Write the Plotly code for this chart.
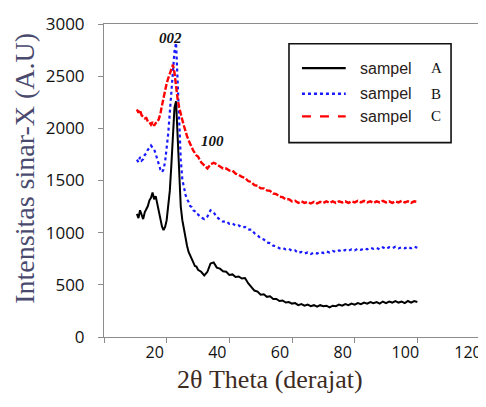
import plotly.graph_objects as go

# 2-theta positions (degrees)
theta = [10.5, 11, 11.5, 12, 12.5, 13, 13.5, 14, 14.5, 15, 15.5, 16, 16.5, 17, 17.5, 18, 18.5, 19, 19.5, 20,
         20.5, 21, 21.5, 22, 22.5, 23, 23.5, 24, 24.5, 25, 25.5, 26, 26.5, 27, 27.5, 28, 28.5, 29, 29.5, 30,
         31, 32, 33, 34, 35, 36, 37, 38, 39, 40, 41, 42, 43, 44, 45, 46, 47, 48, 49, 50,
         51, 52, 53, 54, 55, 56, 57, 58, 59, 60, 61, 62, 63, 64, 65, 66, 67, 68, 69, 70,
         71, 72, 73, 74, 75, 76, 77, 78, 79, 80, 81, 82, 83, 84, 85, 86, 87, 88, 89, 90,
         91, 92, 93, 94, 95, 96, 97, 98, 99, 100]

sampel_A = [1180, 1140, 1215, 1165, 1130, 1195, 1230, 1255, 1310, 1335, 1385, 1320, 1350, 1280, 1200, 1110, 1060, 1025, 1055, 1120,
            1250, 1400, 1650, 1950, 2200, 2260, 1900, 1480, 1250, 1120, 1030, 955, 875, 815, 775, 735, 715, 680, 675, 645,
            625, 590, 625, 705, 715, 665, 655, 630, 625, 595, 600, 575, 580, 560, 565, 515, 485, 445, 435, 405,
            410, 385, 390, 365, 365, 345, 350, 330, 335, 320, 325, 305, 315, 300, 310, 295, 305, 290, 305, 295,
            300, 285, 300, 295, 310, 300, 315, 305, 320, 310, 325, 315, 330, 320, 335, 325, 335, 320, 340, 325,
            340, 330, 345, 330, 340, 325, 345, 330, 345, 335]

sampel_B = [1700, 1675, 1725, 1690, 1705, 1745, 1760, 1795, 1810, 1835, 1815, 1800, 1755, 1700, 1640, 1605, 1580, 1605, 1680, 1800,
            1950, 2150, 2350, 2560, 2740, 2820, 2450, 2000, 1700, 1510, 1420, 1365, 1320, 1295, 1255, 1245, 1215, 1205, 1180, 1175,
            1145, 1130, 1155, 1215, 1195, 1150, 1125, 1105, 1110, 1085, 1090, 1065, 1070, 1050, 1055, 1030, 1030, 995, 975, 945,
            935, 905, 900, 875, 870, 850, 855, 840, 845, 825, 830, 805, 815, 800, 810, 795, 810, 800, 815, 805,
            820, 810, 825, 815, 830, 820, 835, 825, 840, 830, 845, 835, 850, 840, 855, 845, 855, 840, 860, 845,
            860, 850, 865, 850, 860, 850, 865, 850, 865, 855]

sampel_C = [2180, 2150, 2175, 2125, 2110, 2095, 2100, 2065, 2060, 2035, 2060, 2025, 2050, 2060, 2090, 2140, 2220, 2300, 2370, 2430,
            2480, 2530, 2580, 2610, 2530, 2380, 2280, 2200, 2150, 2080, 2025, 1965, 1925, 1885, 1850, 1815, 1785, 1765, 1740, 1730,
            1675, 1645, 1615, 1655, 1670, 1655, 1635, 1615, 1615, 1595, 1595, 1565, 1555, 1535, 1525, 1495, 1485, 1455, 1450, 1425,
            1425, 1405, 1400, 1375, 1370, 1345, 1340, 1320, 1320, 1300, 1305, 1285, 1300, 1285, 1295, 1280, 1295, 1280, 1295, 1285,
            1300, 1285, 1300, 1285, 1300, 1290, 1300, 1285, 1300, 1290, 1305, 1290, 1305, 1290, 1300, 1285, 1300, 1290, 1305, 1290,
            1300, 1285, 1300, 1290, 1305, 1290, 1300, 1285, 1300, 1295]

x_ticks = [0, 20, 40, 60, 80, 100, 120]
x_tick_text = ["", "20", "40", "60", "80", "100", "120"]
y_ticks = [0, 500, 1000, 1500, 2000, 2500, 3000]

legend_names = ["sampel", "sampel", "sampel"]
legend_letters = ["A", "B", "C"]
colors = ["#000000", "#1a1aff", "#ff0000"]
curve_dashes = ["solid", "dot", "6px,2px"]
legend_dashes = ["solid", "dot", "dash"]
widths = [2.0, 2.2, 2.4]

peak_labels = ["002", "100"]
peak_pos = [(21.3, 2870), (34.5, 1876)]

fig = go.Figure()
for ys, c, d, w in zip([sampel_A, sampel_B, sampel_C], colors, curve_dashes, widths):
    fig.add_trace(go.Scatter(x=theta, y=ys, mode="lines",
                             line=dict(color=c, dash=d, width=w), showlegend=False))

# peak labels
for t, (px, py) in zip(peak_labels, peak_pos):
    fig.add_annotation(x=px, y=py, text="<b><i>" + t + "</i></b>", showarrow=False,
                       font=dict(family="Liberation Serif", size=15, color="#111111"),
                       xanchor="center", yanchor="middle")

# manual legend box
fig.add_shape(type="rect", xref="paper", yref="paper", x0=0.492, x1=0.923, y0=0.621, y1=0.937,
              line=dict(color="#111111", width=1.6), fillcolor="white", layer="above")
leg_y = [0.859, 0.777, 0.705]
for name, letter, c, d, yy in zip(legend_names, legend_letters, colors, legend_dashes, leg_y):
    fig.add_shape(type="line", xref="paper", yref="paper", x0=0.5265, x1=0.6429, y0=yy, y1=yy,
                  line=dict(color=c, dash=d, width=2.4), layer="above")
    fig.add_annotation(xref="paper", yref="paper", x=0.6746, y=yy, text=name, showarrow=False,
                       xanchor="left", yanchor="middle",
                       font=dict(family="Liberation Sans", size=16, color="#2a2118"))
    fig.add_annotation(xref="paper", yref="paper", x=0.8836, y=yy, text=letter, showarrow=False,
                       xanchor="center", yanchor="middle",
                       font=dict(family="Liberation Serif", size=15, color="#111111"))

# axis titles
fig.add_annotation(xref="paper", yref="paper", x=-0.2116, y=0.539, text="Intensitas sinar-X (A.U)",
                   textangle=-90, showarrow=False, xanchor="center", yanchor="middle",
                   font=dict(family="Liberation Serif", size=28, color="#4a4a6e"))
fig.add_annotation(xref="paper", yref="paper", x=0.442, y=-0.135, text="2θ Theta (derajat)",
                   showarrow=False, xanchor="center", yanchor="middle",
                   font=dict(family="Liberation Serif", size=26, color="#3d2b1f"))

axis_common = dict(showgrid=False, zeroline=False, showline=True, linecolor="#8c8c8c", linewidth=1,
                   mirror=True, ticks="outside", ticklen=5, tickcolor="#8c8c8c", tickwidth=1,
                   ticklabeloverflow="allow",
                   tickfont=dict(family="Open Sans", size=17, color="#111111"))
fig.update_xaxes(range=[0, 120], tickvals=x_ticks, ticktext=x_tick_text,
                 ticklabelshift=-12, ticklabelstandoff=-4, **axis_common)
fig.update_xaxes(tickfont=dict(family="Open Sans", size=16, color="#111111"))
fig.update_yaxes(range=[0, 3000], tickvals=y_ticks, ticklabelstandoff=10, **axis_common)

# page body has an 8px margin, so the figure is 8px smaller and margins are offset
fig.update_layout(width=478, height=399, margin=dict(l=96, r=4, t=10, b=70),
                  plot_bgcolor="white", paper_bgcolor="white", showlegend=False)

fig.write_html("out.html")
